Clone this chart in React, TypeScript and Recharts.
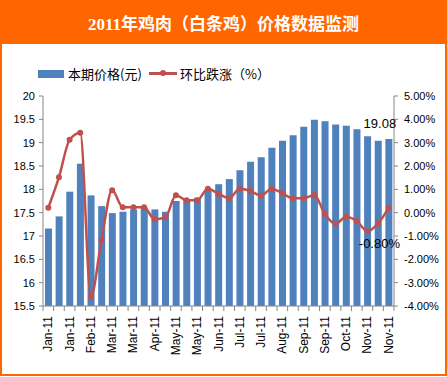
import { ComposedChart, Bar, Line, XAxis, YAxis, LabelList } from 'recharts';

// ten-day periods (上/中/下旬), Jan 2011 – Nov 2011
const periods = [
    'Jan-11', 'Jan-11', 'Jan-11', 'Feb-11', 'Feb-11', 'Feb-11', 'Mar-11', 'Mar-11', 'Mar-11',
    'Apr-11', 'Apr-11', 'Apr-11', 'May-11', 'May-11', 'May-11', 'Jun-11', 'Jun-11', 'Jun-11',
    'Jul-11', 'Jul-11', 'Jul-11', 'Aug-11', 'Aug-11', 'Aug-11', 'Sep-11', 'Sep-11', 'Sep-11',
    'Oct-11', 'Oct-11', 'Oct-11', 'Nov-11', 'Nov-11', 'Nov-11',
];

// 本期价格(元)
const prices = [
    17.16, 17.42, 17.95, 18.55, 17.87, 17.64, 17.49, 17.52, 17.57, 17.61, 17.57,
    17.52, 17.75, 17.78, 17.82, 17.99, 18.11, 18.22, 18.41, 18.59, 18.69, 18.89,
    19.04, 19.16, 19.34, 19.49, 19.46, 19.39, 19.36, 19.29, 19.14, 19.04, 19.08,
];

// 环比跌涨 (%)
const changes = [
    0.21, 1.52, 3.12, 3.43, -3.6, -1.17, 0.96, 0.23, 0.23, 0.23, -0.28,
    -0.2, 0.75, 0.53, 0.53, 1.03, 0.81, 0.62, 1.03, 0.93, 0.73, 1.03,
    0.83, 0.62, 0.62, 0.76, -0.06, -0.48, -0.17, -0.36, -0.8, -0.46, 0.21,
];

const priceTicks = [15.5, 16, 16.5, 17, 17.5, 18, 18.5, 19, 19.5, 20];
const changeTicks = [-4, -3, -2, -1, 0, 1, 2, 3, 4, 5];

const data = periods.map((p, i) => ({ period: p, price: prices[i], change: changes[i] }));

const BLUE = '#4F81BD';
const RED = '#C0504D';
const AXIS = '#868686';
const ORANGE = '#FF6600';
const FONT = "'Liberation Sans', Arial, sans-serif";
const CJK = "'Noto Sans CJK SC', sans-serif";

const W = 447;
const H = 377;
const PLOT_W = 351;

const XTick = ({ x, y, index, payload }: any) => {
    const half = PLOT_W / periods.length / 2;
    const last = index === periods.length - 1;
    return (
        <g>
            <line x1={x - half} x2={x - half} y1={y} y2={y + 5} stroke={AXIS} />
            {last && <line x1={x + half} x2={x + half} y1={y} y2={y + 5} stroke={AXIS} />}
            {index % 2 === 0 && (
                <text
                    x={x}
                    y={y + 10}
                    transform={`rotate(-90, ${x}, ${y + 10})`}
                    textAnchor="end"
                    dominantBaseline="central"
                    fontSize={12}
                    fontFamily={FONT}
                    fill="#000"
                >
                    {payload.value}
                </text>
            )}
        </g>
    );
};

const lastPriceLabel = ({ x, y, width, value, index }: any) => {
    if (index !== prices.length - 1) return null;
    return (
        <text x={x + width / 2 - 9} y={y - 11} textAnchor="middle" fontSize={13} fontFamily={FONT} fill="#000">
            {value}
        </text>
    );
};

const minChangeLabel = ({ x, y, value, index }: any) => {
    if (index !== 30) return null;
    return (
        <text x={x + 12} y={y + 17} textAnchor="middle" fontSize={13} fontFamily={FONT} fill="#000">
            {`${value.toFixed(2)}%`}
        </text>
    );
};

export default function App() {
    return (
        <div style={{ position: 'relative', width: W, height: H, background: '#fff', overflow: 'hidden' }}>
            <style>{'body{margin:0}'}</style>
            <div
                style={{
                    position: 'absolute', left: 0, top: 0, width: W, height: H - 1,
                    border: `2px solid ${ORANGE}`, boxSizing: 'border-box',
                }}
            />
            <div
                style={{
                    position: 'absolute', left: 0, top: 0, width: W, height: 44, background: ORANGE,
                    color: '#fff', fontWeight: 'bold', fontSize: 17, textAlign: 'center', lineHeight: '50px',
                    fontFamily: "'Liberation Serif', 'Noto Sans CJK SC', serif",
                }}
            >
                2011年鸡肉（白条鸡）价格数据监测
            </div>

            {/* legend */}
            <div style={{ position: 'absolute', left: 38, top: 70, width: 26, height: 8, background: BLUE }} />
            <span style={{ position: 'absolute', left: 68, top: 65, fontSize: 13, lineHeight: '18px', fontFamily: CJK, color: '#000' }}>
                本期价格(元)
            </span>
            <div style={{ position: 'absolute', left: 149, top: 72, width: 28, height: 3, background: RED }} />
            <div style={{ position: 'absolute', left: 160, top: 70, width: 6, height: 6, borderRadius: 3, background: RED }} />
            <span style={{ position: 'absolute', left: 180, top: 65, fontSize: 13, lineHeight: '18px', fontFamily: CJK, color: '#000' }}>
                环比跌涨（%）
            </span>

            <div style={{ position: 'absolute', left: 0, top: 0 }}>
                <ComposedChart width={W} height={H} data={data} margin={{ top: 96, right: 0, bottom: 11, left: 0 }}>
                    <XAxis
                        dataKey="period"
                        interval={0}
                        height={60}
                        tickSize={0}
                        tickMargin={0}
                        tickLine={false}
                        tick={(props: any) => <XTick {...props} />}
                        axisLine={{ stroke: AXIS }}
                    />
                    <YAxis
                        yAxisId="price"
                        width={43}
                        domain={[15.5, 20]}
                        ticks={priceTicks}
                        allowDataOverflow
                        tickSize={4}
                        tickMargin={4}
                        axisLine={{ stroke: AXIS }}
                        tickLine={{ stroke: AXIS }}
                        tick={{ fontSize: 11, fill: '#000', fontFamily: FONT }}
                    />
                    <YAxis
                        yAxisId="pct"
                        orientation="right"
                        width={53}
                        domain={[-4, 5]}
                        ticks={changeTicks}
                        allowDataOverflow
                        tickSize={4}
                        tickMargin={6}
                        axisLine={{ stroke: AXIS }}
                        tickLine={{ stroke: AXIS }}
                        tickFormatter={(v: number) => `${v.toFixed(2)}%`}
                        tick={{ fontSize: 11, fill: '#000', fontFamily: FONT }}
                    />
                    <Bar yAxisId="price" dataKey="price" fill={BLUE} barSize={7} isAnimationActive={false}>
                        <LabelList dataKey="price" content={lastPriceLabel} />
                    </Bar>
                    <Line
                        yAxisId="pct"
                        dataKey="change"
                        type="monotone"
                        stroke={RED}
                        strokeWidth={2.5}
                        dot={{ r: 3, fill: RED, stroke: RED, strokeWidth: 0 }}
                        isAnimationActive={false}
                    >
                        <LabelList dataKey="change" content={minChangeLabel} />
                    </Line>
                </ComposedChart>
            </div>
        </div>
    );
}
